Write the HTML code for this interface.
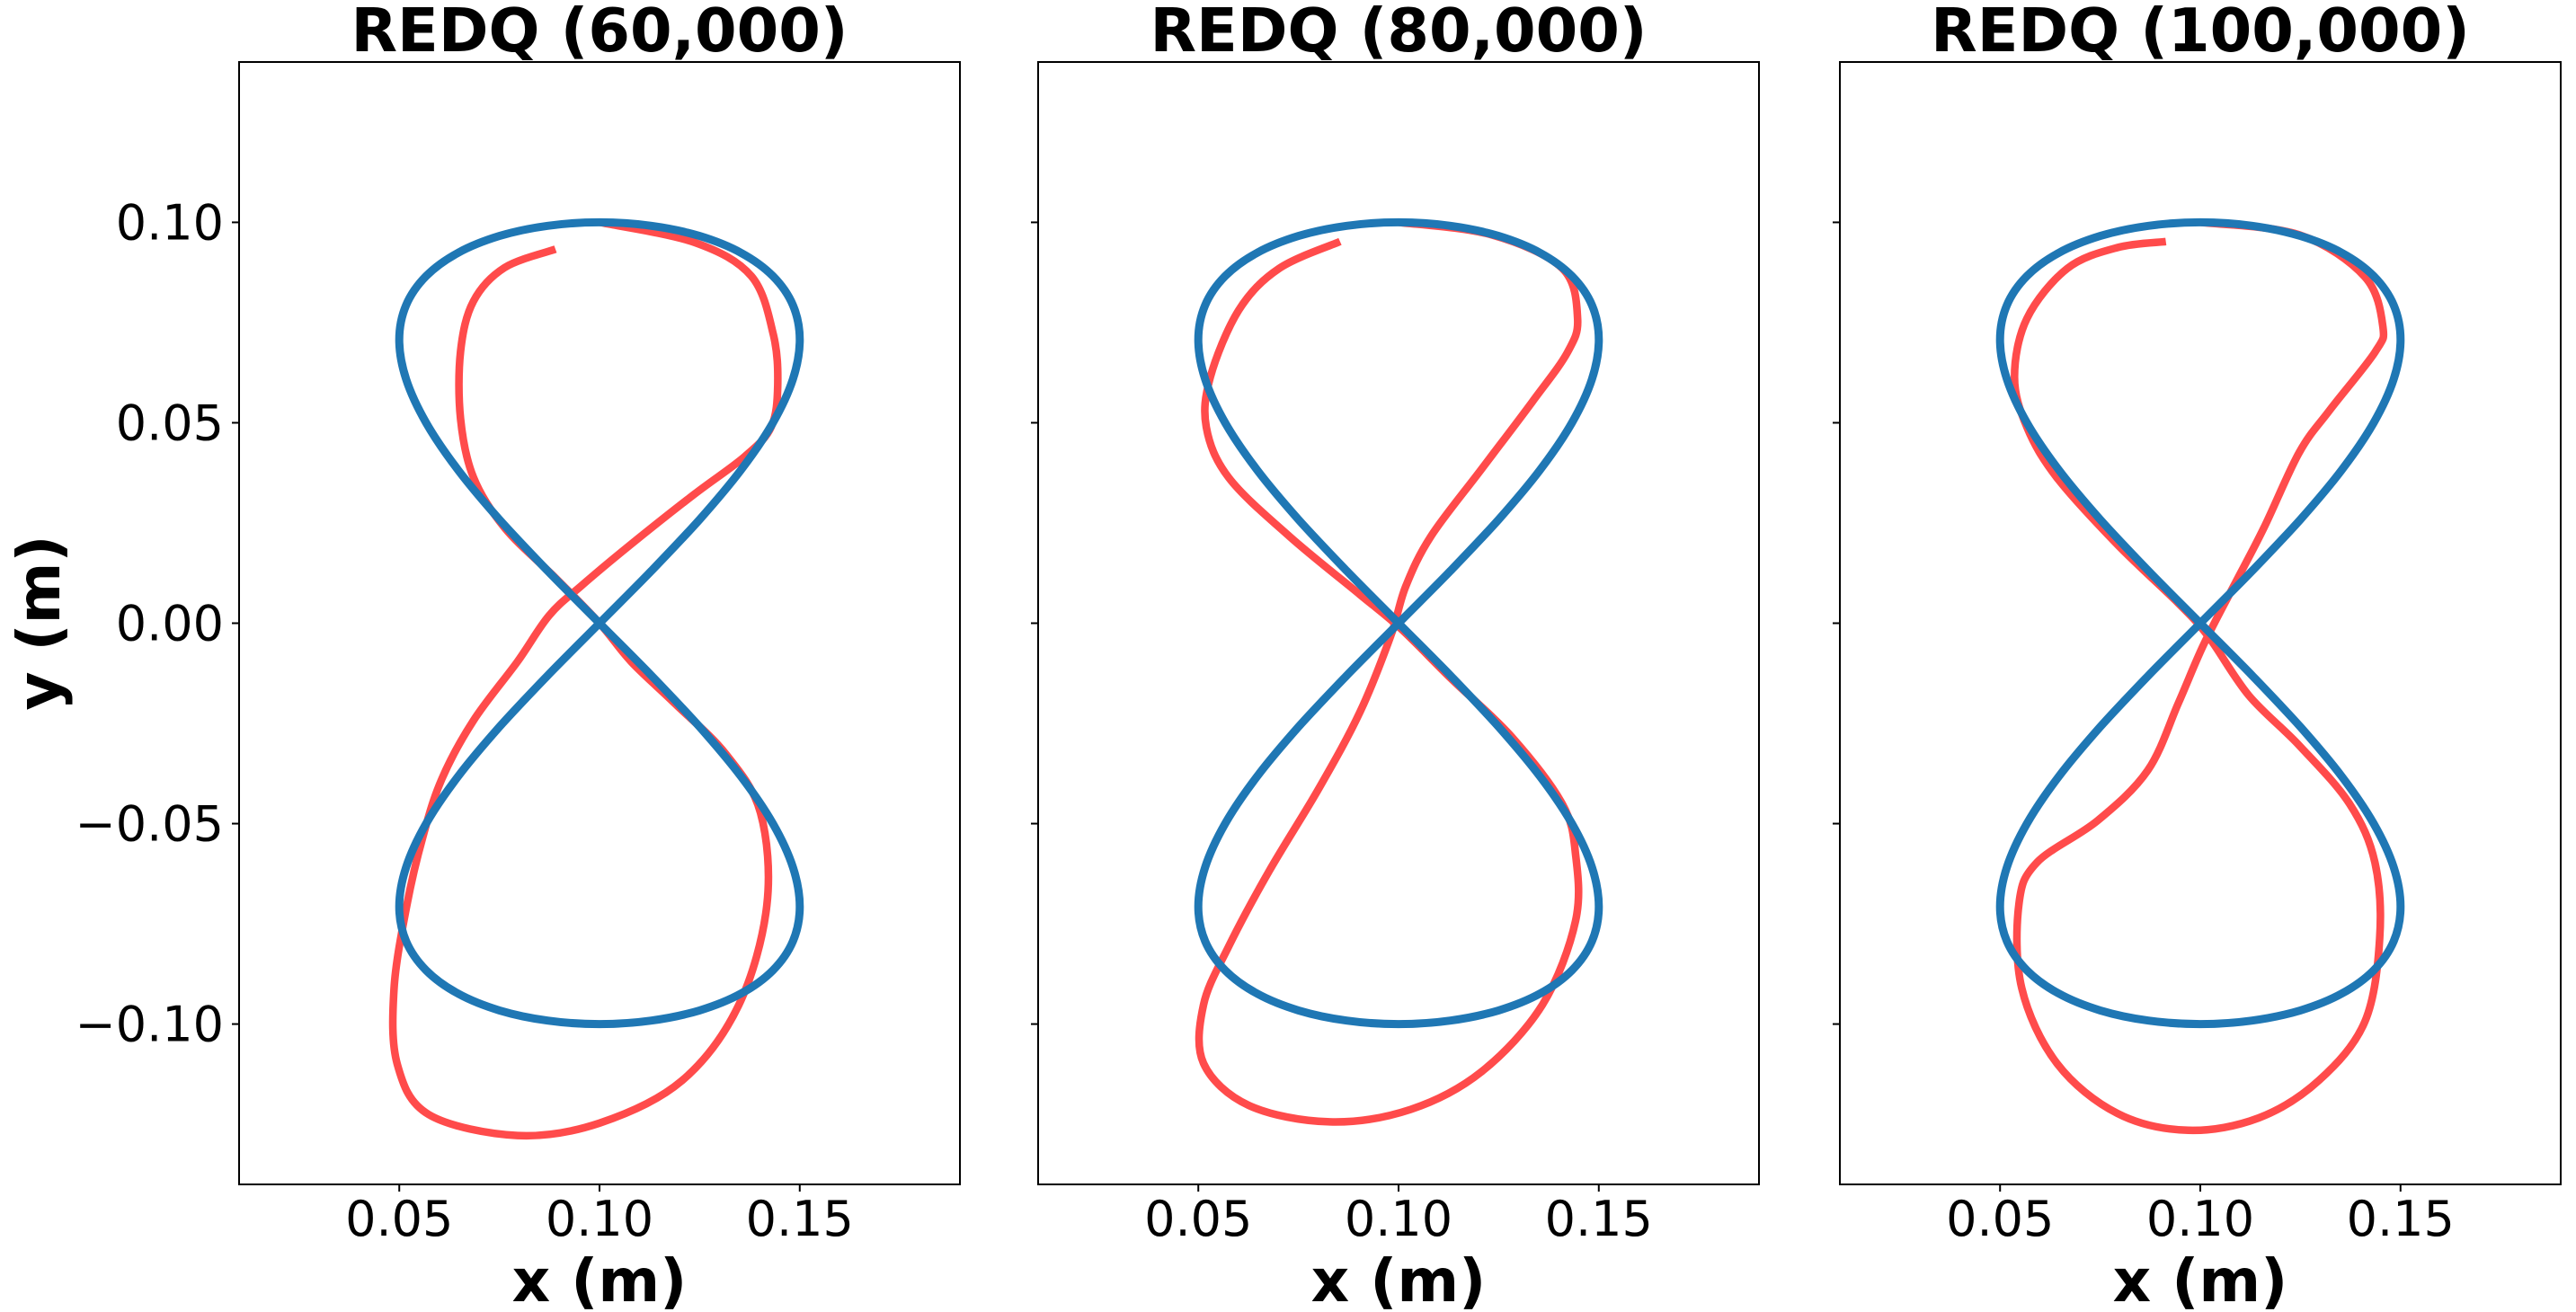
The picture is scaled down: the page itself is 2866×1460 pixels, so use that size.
<!DOCTYPE html>
<html><head><meta charset="utf-8"><style>
html,body{margin:0;padding:0;background:#fff}
svg{display:block}
text{font-family:"DejaVu Sans","Liberation Sans",sans-serif;fill:#000}
</style></head><body>
<svg id="fig" width="2866" height="1460" viewBox="0 0 2866 1460" xmlns="http://www.w3.org/2000/svg"></svg>
<script>
const panelTitles = ["REDQ (60,000)", "REDQ (80,000)", "REDQ (100,000)"];
const xTicks = [0.05, 0.10, 0.15];
const xTickLabels = ["0.05", "0.10", "0.15"];
const yTicks = [0.10, 0.05, 0.00, -0.05, -0.10];
const yTickLabels = ["0.10", "0.05", "0.00", "\u22120.05", "\u22120.10"];
const refX = [0.1,0.11294,0.125,0.13536,0.1433,0.1483,0.15,0.1483,0.1433,0.13536,0.125,0.11294,0.1,0.08706,0.075,0.06464,0.0567,0.0517,0.05,0.0517,0.0567,0.06464,0.075,0.08706,0.1,0.11294,0.125,0.13536,0.1433,0.1483,0.15,0.1483,0.1433,0.13536,0.125,0.11294,0.1,0.08706,0.075,0.06464,0.0567,0.0517,0.05,0.0517,0.0567,0.06464,0.075,0.08706];
const refY = [0.1,0.09914,0.09659,0.09239,0.0866,0.07934,0.07071,0.06088,0.05,0.03827,0.02588,0.01305,0,-0.01305,-0.02588,-0.03827,-0.05,-0.06088,-0.07071,-0.07934,-0.0866,-0.09239,-0.09659,-0.09914,-0.1,-0.09914,-0.09659,-0.09239,-0.0866,-0.07934,-0.07071,-0.06088,-0.05,-0.03827,-0.02588,-0.01305,0,0.01305,0.02588,0.03827,0.05,0.06088,0.07071,0.07934,0.0866,0.09239,0.09659,0.09914];
const red60X = [0.1,0.1237,0.1379,0.1434,0.1445,0.1429,0.1363,0.1237,0.1079,0.0953,0.0874,0.0795,0.0685,0.0606,0.0558,0.0519,0.0487,0.0495,0.0574,0.0795,0.1,0.1205,0.1347,0.1418,0.1402,0.1315,0.1189,0.1079,0.1,0.089,0.0763,0.0685,0.0653,0.0653,0.0685,0.0763,0.089];
const red60Y = [0.1,0.095,0.0866,0.072,0.0594,0.049,0.0416,0.0322,0.0197,0.0092,0.0019,-0.0096,-0.0243,-0.0389,-0.0536,-0.0703,-0.0912,-0.11,-0.1226,-0.1278,-0.1247,-0.1142,-0.0954,-0.0703,-0.0473,-0.0326,-0.0201,-0.0096,0,0.0113,0.0238,0.0364,0.051,0.0678,0.0803,0.0887,0.0933];
const red80X = [0.1,0.1232,0.1409,0.1447,0.1422,0.1333,0.1207,0.1081,0.1018,0.098,0.0904,0.0803,0.0677,0.0576,0.0513,0.0513,0.0626,0.0828,0.103,0.1207,0.1359,0.1442,0.1442,0.1409,0.1283,0.1131,0.1005,0.0904,0.0727,0.0576,0.052,0.053,0.0601,0.0702,0.0854];
const red80Y = [0.1,0.0969,0.0885,0.076,0.0676,0.0551,0.0384,0.0217,0.0092,-0.0033,-0.0221,-0.0409,-0.0618,-0.0806,-0.0952,-0.1098,-0.1203,-0.1244,-0.1213,-0.1119,-0.0952,-0.0743,-0.0576,-0.0451,-0.0284,-0.0138,-0.0013,0.0071,0.0217,0.0363,0.0489,0.0614,0.0781,0.0885,0.0952];
const red100X = [0.1,0.1247,0.1411,0.1456,0.1436,0.1322,0.1247,0.1159,0.1083,0.1008,0.0945,0.0869,0.0743,0.0592,0.0547,0.0554,0.0642,0.0793,0.097,0.1146,0.1297,0.1411,0.1448,0.1436,0.1373,0.1247,0.1121,0.102,0.0945,0.0793,0.0642,0.0567,0.0536,0.0567,0.0668,0.0793,0.0914];
const red100Y = [0.1,0.0969,0.0864,0.0739,0.0676,0.053,0.0426,0.0238,0.0092,-0.0054,-0.02,-0.0367,-0.0493,-0.0597,-0.0701,-0.091,-0.1098,-0.1223,-0.1265,-0.1234,-0.114,-0.0994,-0.0785,-0.0597,-0.0451,-0.0305,-0.018,-0.0033,0.005,0.0196,0.0363,0.0489,0.0614,0.076,0.0885,0.0937,0.0952];
const redX = [red60X, red80X, red100X];
const redY = [red60Y, red80Y, red100Y];

const NS = "http://www.w3.org/2000/svg";
const svg = document.getElementById("fig");
const panelLefts = [266, 1155, 2047];
const axW = 802, axTop = 69, axBot = 1318;
const xMin = 0.01, xMax = 0.19, yMin = -0.14, yMax = 0.14;
function mk(tag, attrs, parent) {
  const e = document.createElementNS(NS, tag);
  for (const k in attrs) e.setAttribute(k, attrs[k]);
  (parent || svg).appendChild(e);
  return e;
}
function spline(pts, closed) {
  const n = pts.length;
  const get = i => closed ? pts[(i + n) % n] : pts[Math.max(0, Math.min(n - 1, i))];
  const segs = closed ? n : n - 1;
  let d = "M" + pts[0][0].toFixed(1) + "," + pts[0][1].toFixed(1);
  for (let i = 0; i < segs; i++) {
    const p0 = get(i - 1), p1 = get(i), p2 = get(i + 1), p3 = get(i + 2);
    const c1 = [p1[0] + (p2[0] - p0[0]) / 6, p1[1] + (p2[1] - p0[1]) / 6];
    const c2 = [p2[0] - (p3[0] - p1[0]) / 6, p2[1] - (p3[1] - p1[1]) / 6];
    d += " C" + c1[0].toFixed(1) + "," + c1[1].toFixed(1) + " " + c2[0].toFixed(1) + "," + c2[1].toFixed(1) + " " + p2[0].toFixed(1) + "," + p2[1].toFixed(1);
  }
  return d + (closed ? " Z" : "");
}
panelTitles.forEach((title, p) => {
  const L = panelLefts[p];
  const sx = v => L + (v - xMin) / (xMax - xMin) * axW;
  const sy = v => axBot - (v - yMin) / (yMax - yMin) * (axBot - axTop);
  const g = mk("g", {});
  
  
  const t = mk("text", {x: L + axW / 2, y: 57, "text-anchor": "middle", "font-size": 67, "font-weight": "bold"}, g);
  t.textContent = title;
  
  
  const rp = redX[p].map((v, i) => [sx(v), sy(redY[p][i])]);
  const r = mk("path", {d: spline(rp, false), fill: "none", stroke: "#ff4b4b", "stroke-width": 8.5, "stroke-linejoin": "round"}, g);
  
  
  const bp = refX.map((v, i) => [sx(v), sy(refY[i])]);
  const b = mk("path", {d: spline(bp, true), fill: "none", stroke: "#1f77b4", "stroke-width": 9, "stroke-linejoin": "round"}, g);
  
  
  const fr = mk("rect", {x: L, y: axTop, width: axW, height: axBot - axTop, fill: "none", stroke: "#000", "stroke-width": 2}, g);
  
  
  xTicks.forEach((v, i) => {
    const tk = mk("line", {x1: sx(v), x2: sx(v), y1: axBot, y2: axBot + 8, stroke: "#000", "stroke-width": 2}, g);
    
    
    const tl = mk("text", {x: sx(v), y: 1375, "text-anchor": "middle", "font-size": 54}, g);
    tl.textContent = xTickLabels[i];
    
    
  });
  yTicks.forEach((v, i) => {
    const tk = mk("line", {x1: L - 8, x2: L, y1: sy(v), y2: sy(v), stroke: "#000", "stroke-width": 2}, g);
    
    
    if (p === 0) {
      const tl = mk("text", {x: L - 17, y: sy(v) + 19, "text-anchor": "end", "font-size": 54}, g);
      tl.textContent = yTickLabels[i];
      
      
    }
  });
  const xl = mk("text", {x: L + axW / 2, y: 1448, "text-anchor": "middle", "font-size": 66, "font-weight": "bold"}, g);
  xl.textContent = "x (m)";
  
  
});
const yl = mk("text", {x: 0, y: 0, "text-anchor": "middle", "font-size": 66, "font-weight": "bold", transform: "translate(66,693) rotate(-90)"});
yl.textContent = "y (m)";


</script>
</body></html>
